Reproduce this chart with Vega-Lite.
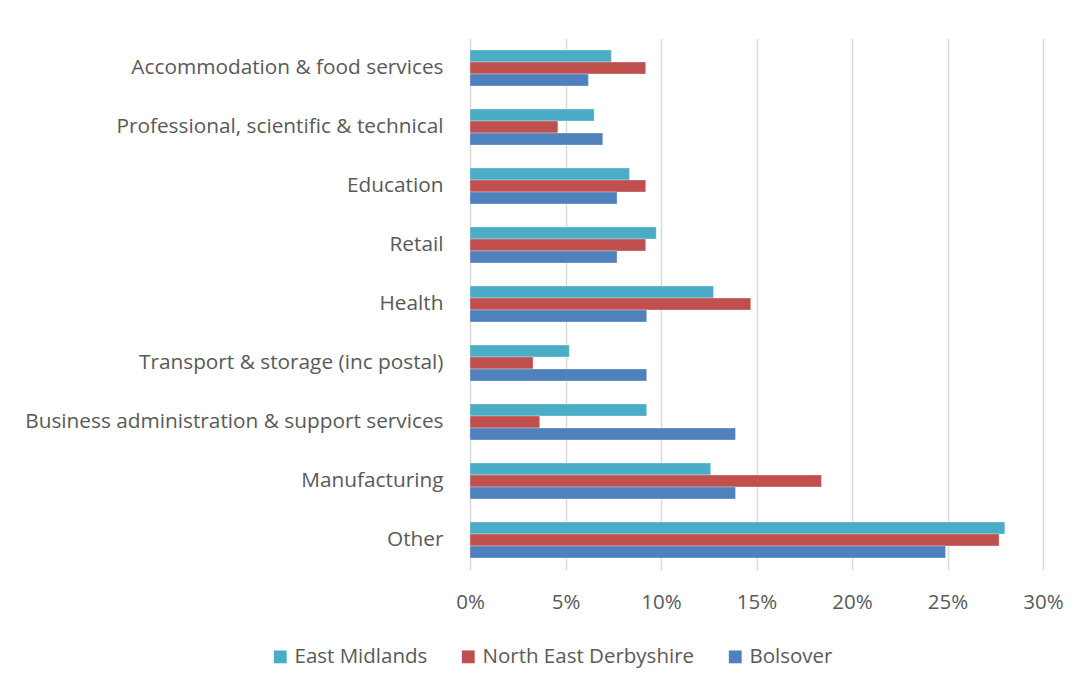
{
  "$schema": "https://vega.github.io/schema/vega-lite/v6.json",
  "width": 573,
  "height": 531,
  "autosize": "none",
  "padding": {"left": 470, "top": 38.5, "right": 37, "bottom": 117.5},
  "background": "white",
  "data": {
    "values": [
      {"category": "Accommodation & food services", "series": "East Midlands", "value": 0.074},
      {"category": "Accommodation & food services", "series": "North East Derbyshire", "value": 0.092},
      {"category": "Accommodation & food services", "series": "Bolsover", "value": 0.062},
      {"category": "Professional, scientific & technical", "series": "East Midlands", "value": 0.065},
      {"category": "Professional, scientific & technical", "series": "North East Derbyshire", "value": 0.046},
      {"category": "Professional, scientific & technical", "series": "Bolsover", "value": 0.0695},
      {"category": "Education", "series": "East Midlands", "value": 0.0835},
      {"category": "Education", "series": "North East Derbyshire", "value": 0.092},
      {"category": "Education", "series": "Bolsover", "value": 0.077},
      {"category": "Retail", "series": "East Midlands", "value": 0.0975},
      {"category": "Retail", "series": "North East Derbyshire", "value": 0.092},
      {"category": "Retail", "series": "Bolsover", "value": 0.077},
      {"category": "Health", "series": "East Midlands", "value": 0.1275},
      {"category": "Health", "series": "North East Derbyshire", "value": 0.147},
      {"category": "Health", "series": "Bolsover", "value": 0.0925},
      {"category": "Transport & storage (inc postal)", "series": "East Midlands", "value": 0.052},
      {"category": "Transport & storage (inc postal)", "series": "North East Derbyshire", "value": 0.033},
      {"category": "Transport & storage (inc postal)", "series": "Bolsover", "value": 0.0925},
      {"category": "Business administration & support services", "series": "East Midlands", "value": 0.0925},
      {"category": "Business administration & support services", "series": "North East Derbyshire", "value": 0.0365},
      {"category": "Business administration & support services", "series": "Bolsover", "value": 0.139},
      {"category": "Manufacturing", "series": "East Midlands", "value": 0.126},
      {"category": "Manufacturing", "series": "North East Derbyshire", "value": 0.184},
      {"category": "Manufacturing", "series": "Bolsover", "value": 0.139},
      {"category": "Other", "series": "East Midlands", "value": 0.28},
      {"category": "Other", "series": "North East Derbyshire", "value": 0.277},
      {"category": "Other", "series": "Bolsover", "value": 0.249}
    ]
  },
  "mark": {"type": "bar", "stroke": "white", "strokeWidth": 0.5, "strokeOpacity": 0.6},
  "encoding": {
    "y": {
      "field": "category",
      "type": "nominal",
      "sort": null,
      "scale": {"paddingInner": 0.39, "paddingOuter": 0.195},
      "axis": {
        "title": null,
        "ticks": false,
        "domain": false,
        "labelPadding": 27,
        "labelFontSize": 20.8,
        "labelColor": "#595959",
        "labelLimit": 600,
        "labelFont": "Open Sans"
      }
    },
    "yOffset": {
      "field": "series",
      "type": "nominal",
      "sort": ["East Midlands", "North East Derbyshire", "Bolsover"],
      "scale": {"paddingInner": 0, "paddingOuter": 0}
    },
    "x": {
      "field": "value",
      "type": "quantitative",
      "scale": {"domain": [0, 0.3], "nice": false},
      "axis": {
        "title": null,
        "format": ".0%",
        "values": [0, 0.05, 0.1, 0.15, 0.2, 0.25, 0.3],
        "ticks": false,
        "domain": false,
        "grid": true,
        "gridColor": "#D9D9D9",
        "gridWidth": 1.5,
        "labelFlush": false,
        "labelPadding": 23,
        "labelFontSize": 20.5,
        "labelColor": "#595959",
        "labelFont": "Open Sans"
      }
    },
    "color": {
      "field": "series",
      "type": "nominal",
      "scale": {
        "domain": ["East Midlands", "North East Derbyshire", "Bolsover"],
        "range": ["#4BACC6", "#C0504D", "#4F81BD"]
      },
      "legend": {
        "title": null,
        "orient": "none",
        "direction": "horizontal",
        "legendX": -200,
        "legendY": 608,
        "symbolType": "square",
        "symbolSize": 165,
        "symbolStrokeWidth": 0,
        "labelFontSize": 20.5,
        "labelColor": "#595959",
        "labelFont": "Open Sans",
        "labelLimit": 400,
        "columnPadding": 30,
        "labelOffset": 4
      }
    }
  },
  "config": {
    "view": {"stroke": null},
    "font": "Open Sans"
  }
}
